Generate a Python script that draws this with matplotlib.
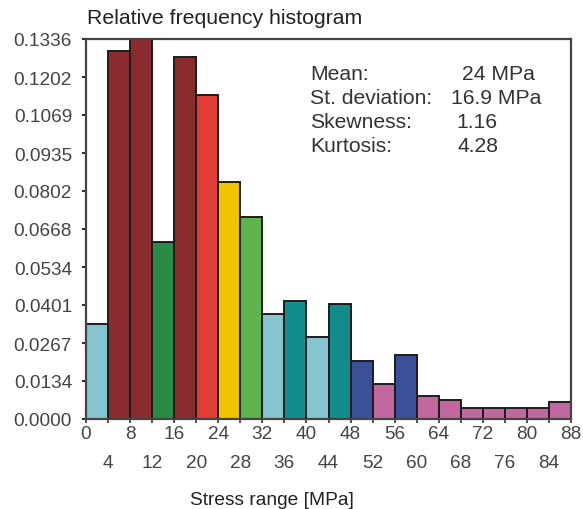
import matplotlib.pyplot as plt
import numpy as np

# stress range bins [MPa], left edges, 4 MPa wide
bin_left = [0, 4, 8, 12, 16, 20, 24, 28, 32, 36, 40, 44,
            48, 52, 56, 60, 64, 68, 72, 76, 80, 84]
bin_width = 4
rel_freq = [0.0334, 0.1294, 0.1336, 0.0622, 0.1273, 0.1139, 0.0833, 0.0710,
            0.0369, 0.0415, 0.0288, 0.0404, 0.0204, 0.0123, 0.0225, 0.0081,
            0.0067, 0.0039, 0.0039, 0.0039, 0.0039, 0.0060]

y_ticks = [0.0000, 0.0134, 0.0267, 0.0401, 0.0534, 0.0668,
           0.0802, 0.0935, 0.1069, 0.1202, 0.1336]
x_major = [0, 8, 16, 24, 32, 40, 48, 56, 64, 72, 80, 88]
x_minor = [4, 12, 20, 28, 36, 44, 52, 60, 68, 76, 84]

stats_names = ["Mean:", "St. deviation:", "Skewness:", "Kurtosis:"]
stats_values = ["24 MPa", "16.9 MPa", "1.16", "4.28"]

c_lblue = "#86c5cf"
c_dred = "#8a2b30"
c_green = "#2b8a46"
c_red = "#df3d36"
c_yel = "#f2c300"
c_lgreen = "#5db44b"
c_teal = "#128c8c"
c_navy = "#3c4f99"
c_pink = "#c168a0"
bar_colors = [c_lblue, c_dred, c_dred, c_green, c_dred, c_red, c_yel, c_lgreen,
              c_lblue, c_teal, c_lblue, c_teal, c_navy, c_pink, c_navy, c_pink,
              c_pink, c_pink, c_pink, c_pink, c_pink, c_pink]

plt.rcParams["font.family"] = ["Liberation Sans", "DejaVu Sans"]

fig = plt.figure(figsize=(5.83, 5.10), dpi=100)
ax = fig.add_axes([86 / 583, 90 / 510, 485 / 583, 380 / 510])

ax.bar(bin_left, rel_freq, width=bin_width, align="edge", color=bar_colors,
       edgecolor="#1c1c1c", linewidth=1.4, zorder=2)

ax.set_xlim(0, 88)
ax.set_ylim(0, 0.1336)
ax.set_yticks(y_ticks, labels=[f"{v:.4f}" for v in y_ticks])
ax.set_xticks(x_major, labels=[str(v) for v in x_major])
ax.set_xticks(x_minor, labels=[str(v) for v in x_minor], minor=True)

ax.tick_params(axis="y", direction="out", length=3, width=1.5, color="#333333",
               labelsize=13.7, labelcolor="#444444", pad=7)
ax.tick_params(axis="x", which="both", direction="out", length=3, width=1.2,
               color="#333333", labelsize=13.7, labelcolor="#444444")
ax.tick_params(axis="x", which="major", pad=1)
ax.tick_params(axis="x", which="minor", pad=22)

for side in ["left", "top", "right", "bottom"]:
    ax.spines[side].set_color("#444444")
    ax.spines[side].set_linewidth(1.6)

fig.text(87 / 583, 1 - 19 / 510, "Relative frequency histogram", ha="left",
         va="center", fontsize=15.3, color="#222222")
fig.text(272 / 583, 1 - 501 / 510, "Stress range [MPa]", ha="center",
         va="center", fontsize=13.8, color="#222222")

row_y = [0.910, 0.847, 0.784, 0.721]
for name, yy in zip(stats_names, row_y):
    ax.text(0.462, yy, name, transform=ax.transAxes, ha="left", va="center",
            fontsize=15.2, color="#333333")
ax.text(0.925, row_y[0], stats_values[0], transform=ax.transAxes, ha="right",
        va="center", fontsize=15.2, color="#333333")
for val, yy, vx in zip(stats_values[1:], row_y[1:], [0.752, 0.763, 0.767]):
    ax.text(vx, yy, val, transform=ax.transAxes, ha="left", va="center",
            fontsize=15.2, color="#333333")

fig.savefig("out.png", dpi=100)
